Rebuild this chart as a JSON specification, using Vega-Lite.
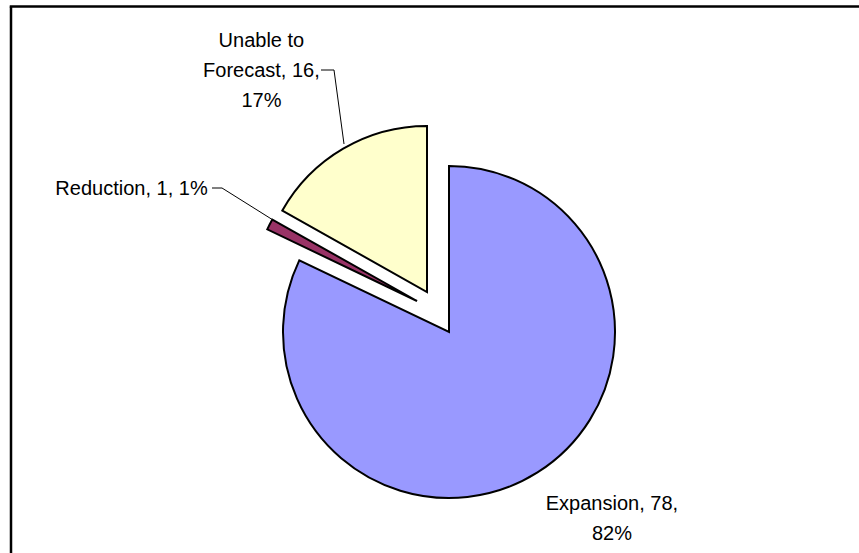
{
  "$schema": "https://vega.github.io/schema/vega-lite/v6.json",
  "width": 876,
  "height": 651,
  "autosize": {"type": "none"},
  "padding": {"left": 11, "top": 6.5, "right": -28, "bottom": -104.5},
  "background": "white",
  "config": {"view": {"stroke": null}, "font": "Liberation Sans"},
  "data": {
    "values": [
      {"category": "Expansion", "value": 78, "label": "Expansion, 78,\n82%"},
      {"category": "Reduction", "value": 1, "label": "Reduction, 1, 1%"},
      {"category": "Unable to Forecast", "value": 16, "label": "Unable to\nForecast, 16,\n17%"}
    ]
  },
  "layer": [
    {
      "transform": [{"filter": "datum.category === 'Expansion'"}],
      "mark": {"type": "rule", "color": "black", "strokeWidth": 2.5},
      "encoding": {
        "x": {"value": 0},
        "y": {"value": 0},
        "y2": {"value": "height"}
      }
    },
    {
      "transform": [{"filter": "datum.category === 'Expansion'"}],
      "mark": {"type": "rule", "color": "black", "strokeWidth": 2.5},
      "encoding": {
        "y": {"value": 0},
        "x": {"value": -1.25},
        "x2": {"value": "width"}
      }
    },
    {
      "mark": {
        "type": "arc",
        "radius": 166,
        "stroke": "black",
        "strokeWidth": 2,
        "x": {"expr": "width/2 + (datum.category === 'Reduction' ? -32 : datum.category === 'Unable to Forecast' ? -22 : 0)"},
        "y": {"expr": "height/2 + (datum.category === 'Reduction' ? -31 : datum.category === 'Unable to Forecast' ? -40 : 0)"}
      },
      "encoding": {
        "theta": {"field": "value", "type": "quantitative", "stack": true},
        "order": {"field": "category", "sort": "ascending"},
        "color": {
          "field": "category",
          "type": "nominal",
          "scale": {"domain": ["Expansion", "Reduction", "Unable to Forecast"], "range": ["#9999FF", "#993366", "#FFFFCC"]},
          "legend": null
        }
      }
    },
    {
      "mark": {
        "type": "text",
        "font": "Liberation Sans",
        "fontSize": 20,
        "lineHeight": 30,
        "lineBreak": "\n",
        "fill": "black",
        "baseline": "alphabetic",
        "radius": {"expr": "datum.category === 'Expansion' ? 210 : datum.category === 'Reduction' ? 272 : 330"},
        "align": {"expr": "datum.category === 'Reduction' ? 'right' : 'center'"},
        "dx": {"expr": "datum.category === 'Expansion' ? 51 : datum.category === 'Reduction' ? 0 : -21"},
        "dy": {"expr": "datum.category === 'Reduction' ? -11.5 : 0"}
      },
      "encoding": {
        "theta": {"field": "value", "type": "quantitative", "stack": true},
        "order": {"field": "category", "sort": "ascending"},
        "detail": {"field": "category", "type": "nominal"},
        "text": {"field": "label", "type": "nominal"}
      }
    },
    {
      "transform": [{"filter": "datum.category === 'Unable to Forecast'"}],
      "mark": {"type": "rule", "color": "black", "strokeWidth": 1},
      "encoding": {
        "x": {"value": {"expr": "width/2 - 128"}},
        "y": {"value": {"expr": "height/2 - 262"}},
        "x2": {"value": {"expr": "width/2 - 115"}},
        "y2": {"value": {"expr": "height/2 - 262"}}
      }
    },
    {
      "transform": [{"filter": "datum.category === 'Unable to Forecast'"}],
      "mark": {"type": "rule", "color": "black", "strokeWidth": 1},
      "encoding": {
        "x": {"value": {"expr": "width/2 - 115"}},
        "y": {"value": {"expr": "height/2 - 262"}},
        "x2": {"value": {"expr": "width/2 - 105"}},
        "y2": {"value": {"expr": "height/2 - 188"}}
      }
    },
    {
      "transform": [{"filter": "datum.category === 'Reduction'"}],
      "mark": {"type": "rule", "color": "black", "strokeWidth": 1},
      "encoding": {
        "x": {"value": {"expr": "width/2 - 237"}},
        "y": {"value": {"expr": "height/2 - 144"}},
        "x2": {"value": {"expr": "width/2 - 227"}},
        "y2": {"value": {"expr": "height/2 - 144"}}
      }
    },
    {
      "transform": [{"filter": "datum.category === 'Reduction'"}],
      "mark": {"type": "rule", "color": "black", "strokeWidth": 1},
      "encoding": {
        "x": {"value": {"expr": "width/2 - 227"}},
        "y": {"value": {"expr": "height/2 - 144"}},
        "x2": {"value": {"expr": "width/2 - 176"}},
        "y2": {"value": {"expr": "height/2 - 112"}}
      }
    }
  ]
}
